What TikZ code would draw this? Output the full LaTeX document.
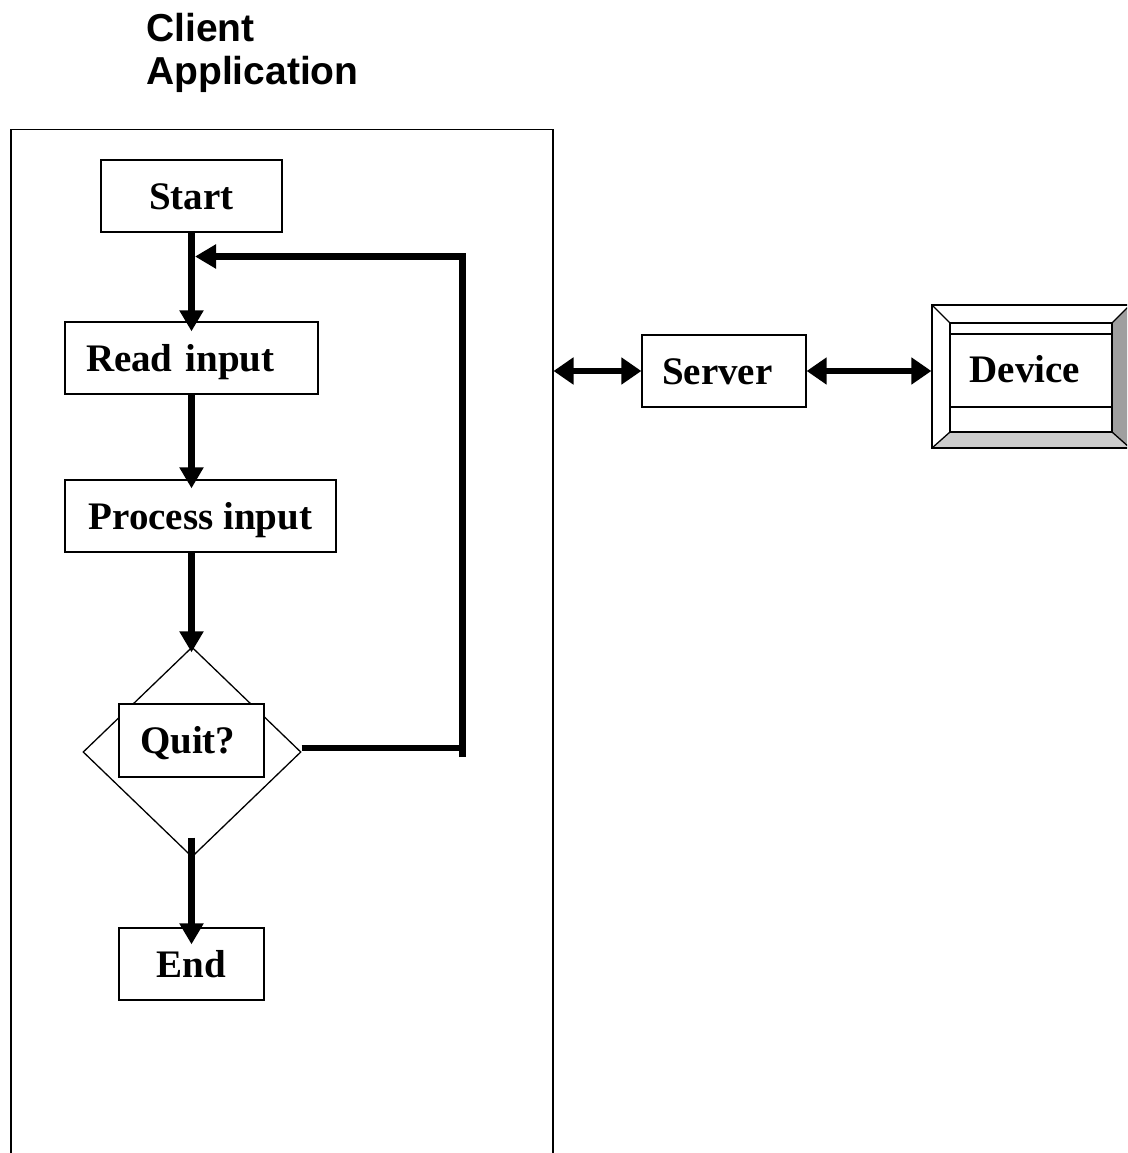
\documentclass[tikz,border=0pt]{standalone}
\usepackage{fontspec}
\setmainfont{Liberation Serif}
\newfontfamily\headfont{Liberation Sans}
\usetikzlibrary{arrows.meta,shapes.geometric,calc}

\begin{document}
\begin{tikzpicture}[x=1pt,y=-1pt,
  lbl/.style={font=\fontsize{39}{45}\selectfont\bfseries, text height=26pt, text depth=0pt},
  stepbox/.style={lbl, draw, line width=1.3pt, fill=white, inner ysep=0pt, minimum height=72pt, align=center},
  leftbox/.style={stepbox, align=left, inner xsep=21pt},
  title/.style={font=\headfont\fontsize{39}{43}\selectfont\bfseries, anchor=base west, inner sep=0pt},
  flow/.style={line width=7pt, line join=miter, -{Triangle[length=21pt,width=23pt]}},
  link/.style={line width=5.5pt, {Triangle[length=20pt,width=26pt]}-{Triangle[length=20pt,width=26pt]}},
]
\useasboundingbox (0,0) rectangle (1127,1153);
\clip (0,0) rectangle (1127,1153);

% heading
\node[title] (t1) at (146,42) {Client};
\node[title] (t2) at (146,85) {Application};

% application frame
\node[draw, line width=1.5pt, anchor=north west, minimum width=542pt,
      minimum height=1060pt, inner sep=0pt] (app) at (10,129) {};

% flowchart
\node[stepbox, minimum width=181pt, inner xsep=0pt] (start) at (191.5,196) {Start};
\node[leftbox, text width=211pt] (read) at (191.5,358) {Read input};
\node[stepbox, minimum width=271pt, inner xsep=0pt] (proc) at (200.5,516) {Process input};
\node[diamond, draw, line width=1.3pt, minimum width=218pt, minimum height=210pt,
      inner sep=0pt] (dec) at (192,752) {};
\node[leftbox, text width=103pt, minimum height=73pt] (quit) at (191.5,740.5) {Quit?};
\node[stepbox, minimum width=145pt, inner xsep=0pt] (end) at (191.5,964) {End};

\draw[flow] (start.south) -- ($(start.south |- read.north)+(0,10)$);
\draw[flow] (start.south |- read.south) -- ($(start.south |- proc.north)+(0,9)$);
\draw[flow] (start.south |- proc.south) -- ($(start.south |- dec.north)+(0,6)$);
\coordinate (dout) at ($(start.south |- dec.south)+(0,-20)$);
\draw[flow] (dout) -- ($(start.south |- end.north)+(0,17)$);

% loop back to the input step
\coordinate (lr) at (462.5,748);
\coordinate (lb) at (462.5,757);
\coordinate (lt) at (462.5,256.5);
\draw[line width=6.5pt] (dec.east |- lr) -- (lr);
\draw[flow, line width=6.5pt] (lb) -- (lt) -- ($(start.south |- lt)+(3.5,0)$);

% server
\node[leftbox, inner xsep=20pt, text width=124pt] (server) at (724,371) {Server};

% device with bevelled frame
\fill[gray!75] (1112,323) -- (1130,305) -- (1130,448) -- (1112,432) -- cycle;
\fill[gray!40] (950,432) -- (1112,432) -- (1130,448) -- (932,448) -- cycle;
\node[draw, line width=1.3pt, minimum width=198pt, minimum height=143pt,
      inner sep=0pt] (device) at (1031,376.5) {};
\draw[line width=1.3pt] (950,323) rectangle (1112,432);
\draw[line width=1.3pt] (932,305) -- (950,323) (1130,305) -- (1112,323)
  (932,448) -- (950,432) (1130,448) -- (1112,432);
\draw[line width=1.3pt] (950,334) -- (1112,334) (950,407) -- (1112,407);
\node[lbl, inner sep=0pt] (devlabel) at (1025,369) {Device};

% connections
\draw[link] (app.north east |- server.west) -- (server.west);
\draw[link] (server.east) -- (server.east -| device.west);
\end{tikzpicture}
\end{document}
